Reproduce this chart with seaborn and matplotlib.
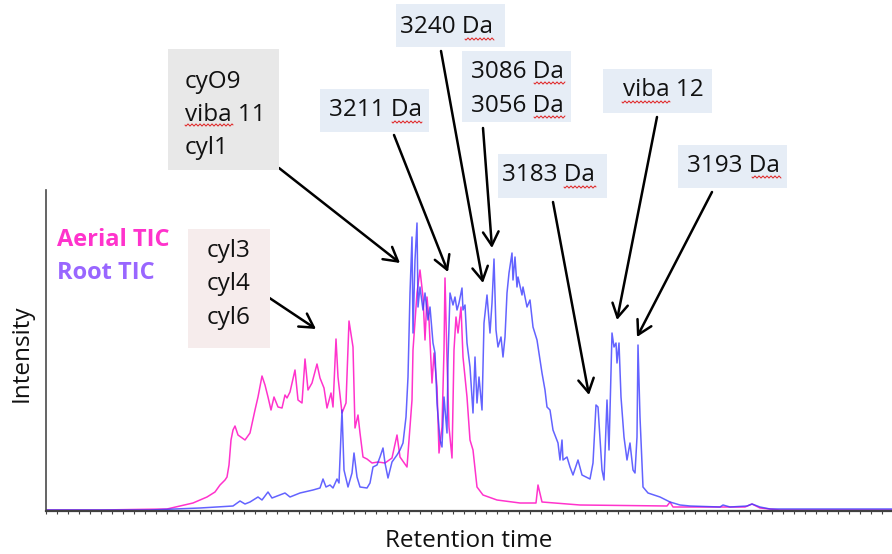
import numpy as np
import pandas as pd
import matplotlib
matplotlib.use("Agg")
import matplotlib.pyplot as plt
from matplotlib.patches import Rectangle
from matplotlib.lines import Line2D
import seaborn as sns

# ---------------- data (scan position, relative intensity) ----------------
aerial_time = [0, 54, 121, 147, 161, 169, 174, 179, 181, 183, 185, 187, 189, 192, 199, 204,
               209, 212, 216, 219, 222, 225, 228, 232, 236, 239, 241, 244, 249, 252, 256, 259,
               262, 266, 271, 274, 278, 281, 285, 287, 290, 292, 296, 300, 303, 307, 309, 312,
               314, 317, 321, 326, 332, 339, 346, 351, 354, 361, 366, 367, 371, 374, 377, 379,
               381, 383, 386, 388, 391, 393, 396, 398, 399, 401, 403, 406, 408, 410, 412, 415,
               417, 421, 424, 427, 431, 437, 451, 474, 490, 492, 496, 534, 621, 624, 627, 699,
               706, 714, 734, 846]
aerial_int = [1, 1, 2, 8, 14, 19, 26, 31, 34, 46, 71, 81, 85, 76, 71, 78,
              101, 114, 135, 126, 114, 101, 114, 104, 103, 116, 113, 119, 141, 111, 108, 152,
              121, 128, 147, 133, 123, 103, 118, 104, 172, 134, 98, 108, 190, 164, 83, 96,
              78, 54, 52, 48, 49, 48, 53, 76, 54, 44, 111, 161, 218, 241, 214, 171,
              214, 191, 128, 158, 124, 58, 84, 161, 233, 151, 84, 53, 161, 194, 178, 204,
              154, 114, 71, 61, 24, 16, 11, 8, 8, 26, 9, 6, 5, 9, 4, 4,
              7, 3, 1, 1]

root_time = [0, 104, 154, 187, 194, 199, 204, 212, 216, 222, 226, 239, 244, 254, 267, 274,
             277, 280, 284, 287, 291, 293, 296, 298, 302, 306, 308, 311, 314, 321, 324, 327,
             331, 334, 337, 339, 342, 346, 351, 354, 357, 360, 362, 364, 366, 367, 369, 371,
             372, 374, 377, 379, 382, 384, 387, 389, 391, 394, 396, 398, 401, 402, 404, 407,
             409, 411, 413, 416, 417, 419, 421, 424, 427, 429, 431, 433, 436, 438, 441, 444,
             446, 448, 450, 452, 455, 457, 459, 461, 463, 466, 467, 469, 471, 472, 476, 477,
             481, 484, 487, 491, 493, 496, 499, 501, 504, 507, 512, 514, 516, 517, 521, 524,
             527, 532, 536, 540, 544, 547, 550, 552, 553, 556, 558, 561, 563, 566, 568, 570,
             571, 573, 575, 578, 581, 584, 587, 589, 591, 592, 594, 597, 602, 614, 624, 634,
             644, 674, 677, 684, 701, 706, 714, 724, 846]
root_int = [1, 1, 3, 5, 10, 7, 9, 14, 11, 19, 13, 18, 14, 18, 21, 23,
            32, 24, 26, 23, 32, 28, 101, 41, 24, 38, 58, 34, 24, 23, 28, 44,
            46, 54, 63, 48, 33, 49, 56, 61, 68, 94, 134, 218, 274, 178, 251, 288,
            204, 224, 201, 218, 191, 204, 168, 158, 108, 71, 64, 114, 78, 151, 218, 206,
            214, 201, 208, 223, 201, 206, 168, 144, 98, 154, 108, 134, 101, 188, 216, 178,
            208, 252, 181, 164, 174, 154, 174, 218, 238, 258, 231, 254, 224, 234, 216, 224,
            204, 211, 184, 171, 158, 138, 121, 104, 101, 81, 68, 51, 71, 51, 54, 44,
            36, 51, 36, 34, 32, 48, 106, 104, 88, 41, 31, 111, 61, 178, 164, 168,
            148, 168, 114, 74, 51, 68, 41, 38, 74, 166, 94, 24, 18, 14, 9, 6,
            5, 4, 6, 4, 5, 7, 4, 2, 2]

series_names = ["Aerial TIC", "Root TIC"]
series_colors = ["#FF33CC", "#3C3CFF"]
legend_colors = ["#FF33CC", "#9966FF"]

# annotations: label lines, arrow target (scan position, intensity)
annot_labels = [["cyO9", "viba 11", "cyl1"], ["3211 Da"], ["3240 Da"],
                ["3086 Da", "3056 Da"], ["3183 Da"], ["viba 12"], ["3193 Da"],
                ["cyl3", "cyl4", "cyl6"]]
annot_target_time = [354, 402, 437, 446, 543, 571, 591, 270]
annot_target_int = [248, 239, 228, 263, 116, 191, 174, 182]

# ---------------- layout (figure pixels, top-left origin) ----------------
W, H = 892, 554
box_rects = [(168, 49, 279, 170), (320, 89, 429, 132), (396, 4, 505, 47),
             (462, 51, 571, 122), (498, 154, 607, 198), (603, 69, 712, 113),
             (678, 145, 787, 188), (188, 229, 270, 348)]
box_colors = ["#E8E8E8", "#E6EDF6", "#E6EDF6", "#E6EDF6", "#E6EDF6", "#E6EDF6",
              "#E6EDF6", "#F6ECEC"]
text_left = [185, 329, 400, 471, 502, 623, 687, 207]
text_y = [[82, 115, 148], [110], [27], [72, 106], [175], [90], [166], [251, 284, 318]]
arrow_start = [(279, 168), (394, 135), (441, 51), (483, 128), (553, 202),
               (657, 117), (712, 192), (262, 293)]
# spell-check squiggles under words (x0, x1, y)
squiggles = [(185, 233, 125), (392, 422, 122), (465, 494, 39), (534, 565, 83),
             (534, 565, 117), (564, 596, 187), (622, 670, 102), (752, 781, 177)]

sns.set_style("white")
plt.rcParams["font.family"] = ["Open Sans", "DejaVu Sans"]

fig = plt.figure(figsize=(W / 100, H / 100), dpi=100)
ax = fig.add_axes([46 / W, (H - 511) / H, 846 / W, 321 / H])


def fx(px):
    return px / W


def fy(py):
    return 1 - py / H


df_a = pd.DataFrame({"time": aerial_time, "intensity": aerial_int})
df_r = pd.DataFrame({"time": root_time, "intensity": root_int})
sns.lineplot(data=df_a, x="time", y="intensity", ax=ax, color=series_colors[0],
             lw=1.1, estimator=None, sort=False)
sns.lineplot(data=df_r, x="time", y="intensity", ax=ax, color=series_colors[1],
             lw=1.1, alpha=0.8, estimator=None, sort=False)

ax.set_xlim(0, 846)
ax.set_ylim(0, 321)
ax.set_xlabel("")
ax.set_ylabel("")
ax.set_yticks([])
ax.set_xticks(np.arange(0, 846, 11))
ax.tick_params(axis="x", direction="out", length=2.5, width=0.8, color="#404040",
               labelbottom=False, bottom=True)
for s in ["top", "right"]:
    ax.spines[s].set_visible(False)
ax.spines["left"].set_color("#4a4a4a")
ax.spines["left"].set_linewidth(1.2)
ax.spines["bottom"].set_color("#404040")
ax.spines["bottom"].set_linewidth(1.6)

# axis titles
fig.text(fx(469), fy(541), "Retention time", ha="center", va="center", fontsize=17.5,
         color="#111111")
fig.text(fx(22), fy(353), "Intensity", ha="center", va="center", rotation=90,
         fontsize=17.5, color="#111111")

# legend texts
for name, col, yy in zip(series_names, legend_colors, [240, 273]):
    fig.text(fx(57), fy(yy), name, ha="left", va="center", fontsize=17,
             fontweight="bold", color=col)

# boxes, text, arrows
for i, lines in enumerate(annot_labels):
    x0, y0, x1, y1 = box_rects[i]
    fig.add_artist(Rectangle((fx(x0), fy(y1)), (x1 - x0) / W, (y1 - y0) / H,
                             transform=fig.transFigure, facecolor=box_colors[i],
                             edgecolor="none", zorder=1))
    for line, yy in zip(lines, text_y[i]):
        fig.text(fx(text_left[i]), fy(yy), line, ha="left", va="center",
                 fontsize=17.5, color="#111111", zorder=2)
    sx, sy = arrow_start[i]
    ax.annotate("", xy=(annot_target_time[i], annot_target_int[i]), xycoords="data",
                xytext=(fx(sx), fy(sy)), textcoords="figure fraction",
                arrowprops=dict(arrowstyle="->,head_length=0.7,head_width=0.4",
                                lw=1.8, color="black", shrinkA=0, shrinkB=0,
                                mutation_scale=14),
                annotation_clip=False)

for x0, x1, yy in squiggles:
    xs = np.linspace(x0, x1, int((x1 - x0) * 2))
    ys = yy + 1.0 * np.sin((xs - x0) / 4.0 * 2 * np.pi)
    fig.add_artist(Line2D(fx(xs), fy(ys), transform=fig.transFigure,
                          color="#E02020", lw=0.7, zorder=3))

fig.savefig("out.png", dpi=100)
